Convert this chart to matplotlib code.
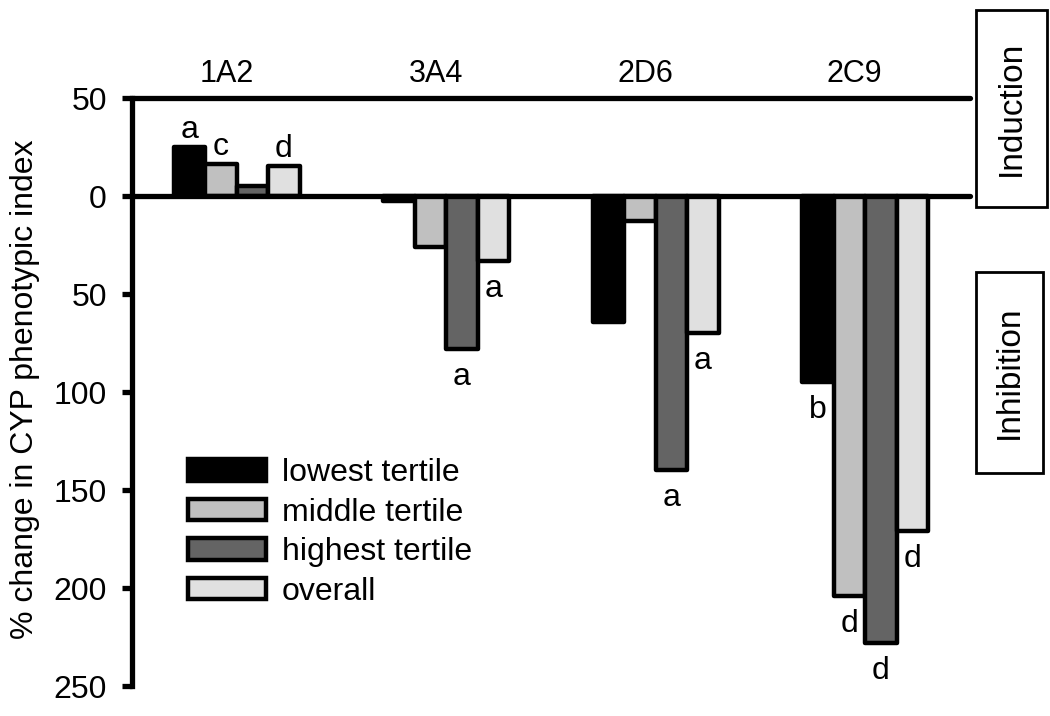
import numpy as np
import matplotlib
matplotlib.use("Agg")
import matplotlib.pyplot as plt
from matplotlib.patches import Rectangle

plt.rcParams['font.family'] = ['Liberation Sans', 'DejaVu Sans']

# CYP enzymes and tertile groups
enzymes = ['1A2', '3A4', '2D6', '2C9']
series_names = ['lowest tertile', 'middle tertile', 'highest tertile', 'overall']
series_colors = ['#000000', '#c0c0c0', '#646464', '#e0e0e0']

# % change in phenotypic index (positive = induction, negative = inhibition)
lowest = [25, -2.5, -64.5, -95]
middle = [16.5, -26, -12.5, -204]
highest = [5, -78, -140, -228]
overall = [15.5, -33, -70, -171]

# significance letters: (enzyme index, series index, letter)
sig_enzyme = [0, 0, 0, 1, 1, 2, 2, 3, 3, 3, 3]
sig_series = [0, 1, 3, 3, 2, 3, 2, 0, 1, 2, 3]
sig_letter = ['a', 'c', 'd', 'a', 'a', 'a', 'a', 'b', 'd', 'd', 'd']

yticks = [50, 0, -50, -100, -150, -200, -250]


def main():
    values = [lowest, middle, highest, overall]
    fig = plt.figure(figsize=(10.5, 7.16), dpi=100)
    ax = fig.add_axes([132 / 1050, 30 / 716, 838 / 1050, 588 / 716])

    x = np.arange(len(enzymes))
    width = 0.15
    for j, (vals, col, name) in enumerate(zip(values, series_colors, series_names)):
        ax.bar(x + (j - 1.5) * width, vals, width, color=col,
               edgecolor='black', linewidth=3.2, joinstyle='round',
               label=name, zorder=2)

    # reference lines at +50 and 0
    for yv in (50, 0):
        ax.axhline(yv, color='black', lw=3.8, solid_capstyle='round',
                   clip_on=False, zorder=3)

    ax.set_xlim(-0.5, 3.5)
    ax.set_ylim(-250, 50)
    ax.set_xticks([])
    ax.set_yticks(yticks)
    ax.set_yticklabels([str(abs(t)) for t in yticks], fontsize=23)
    ax.tick_params(axis='y', direction='out', length=7, width=3.8, pad=11)
    for s in ('top', 'right', 'bottom'):
        ax.spines[s].set_visible(False)
    ax.spines['left'].set_linewidth(3.8)

    # enzyme names above the plot
    for i, name in enumerate(enzymes):
        ax.text(i - 0.05, 62, name, ha='center', va='center', fontsize=22,
                clip_on=False)

    # significance letters
    for gi, si, letter in zip(sig_enzyme, sig_series, sig_letter):
        v = values[si][gi]
        xb = x[gi] + (si - 1.5) * width
        dy = 9 if v > 0 else -36
        ax.annotate(letter, (xb, v), xytext=(0, dy), textcoords='offset pixels',
                    ha='center', va='baseline', fontsize=23)

    ax.legend(loc='upper left', bbox_to_anchor=(188 / 1050, 1 - 458 / 716),
              bbox_transform=fig.transFigure, frameon=False, fontsize=23,
              handlelength=2.44, handleheight=0.66, handletextpad=0.5,
              labelspacing=0.3, borderpad=0, borderaxespad=0)

    fig.text(25 / 1050, 1 - 389 / 716, '% change in CYP phenotypic index',
             rotation=90, ha='center', va='center', fontsize=23)

    # Induction / Inhibition boxes on the right
    ov = fig.add_axes([0, 0, 1, 1], zorder=-1)
    ov.set_xlim(0, 1050)
    ov.set_ylim(716, 0)
    ov.axis('off')
    for (x0, y0, x1, y1), txt in [((976, 10, 1047, 207), 'Induction'),
                                  ((976, 272, 1043, 473), 'Inhibition')]:
        ov.add_patch(Rectangle((x0, y0), x1 - x0, y1 - y0, fill=False,
                               edgecolor='black', lw=2))
        ov.text((x0 + x1) / 2, (y0 + y1) / 2, txt, rotation=90, ha='center',
                va='center', fontsize=24)

    fig.savefig('out.png', dpi=100)


if __name__ == "__main__":
    main()
